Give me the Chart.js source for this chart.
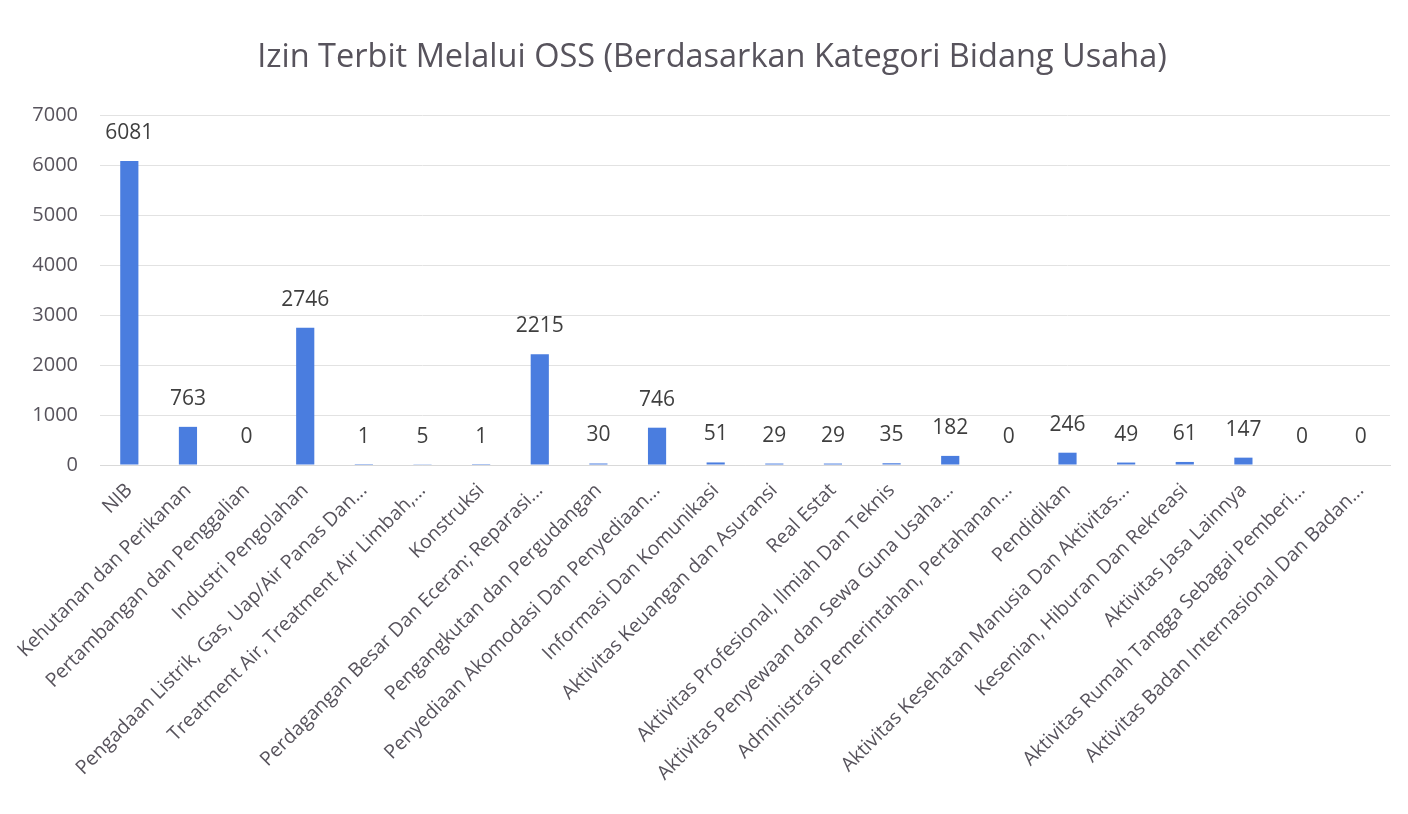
<!DOCTYPE html>
<html>
<head>
<meta charset="utf-8">
<script src="https://cdn.jsdelivr.net/npm/chart.js@4"></script>
<style>
  html, body { margin: 0; padding: 0; background: #fff; }
  #wrap { width: 1408px; height: 814px; }
</style>
</head>
<body>
<div id="wrap"><canvas id="ossChart" width="1408" height="814"></canvas></div>
<script>
const chartTitle = "Izin Terbit Melalui OSS (Berdasarkan Kategori Bidang Usaha)";
const categories = [
  "NIB",
  "Kehutanan dan Perikanan",
  "Pertambangan dan Penggalian",
  "Industri Pengolahan",
  "Pengadaan Listrik, Gas, Uap/Air Panas Dan...",
  "Treatment Air, Treatment Air Limbah,...",
  "Konstruksi",
  "Perdagangan Besar Dan Eceran; Reparasi...",
  "Pengangkutan dan Pergudangan",
  "Penyediaan Akomodasi Dan Penyediaan...",
  "Informasi Dan Komunikasi",
  "Aktivitas Keuangan dan Asuransi",
  "Real Estat",
  "Aktivitas Profesional, Ilmiah Dan Teknis",
  "Aktivitas Penyewaan dan Sewa Guna Usaha...",
  "Administrasi Pemerintahan, Pertahanan...",
  "Pendidikan",
  "Aktivitas Kesehatan Manusia Dan Aktivitas...",
  "Kesenian, Hiburan Dan Rekreasi",
  "Aktivitas Jasa Lainnya",
  "Aktivitas Rumah Tangga Sebagai Pemberi...",
  "Aktivitas Badan Internasional Dan Badan..."
];
const izinTerbit = [6081, 763, 0, 2746, 1, 5, 1, 2215, 30, 746, 51, 29, 29, 35, 182, 0, 246, 49, 61, 147, 0, 0];
const yTicks = [0, 1000, 2000, 3000, 4000, 5000, 6000, 7000];

const textColor = "#57535c";
const fontFam = "'Open Sans', sans-serif";

// value above each bar + title (Excel centres it a bit right of the plot)
const valueLabels = {
  id: "valueLabels",
  afterDatasetsDraw(chart) {
    const ctx = chart.ctx;
    const meta = chart.getDatasetMeta(0);
    ctx.save();
    ctx.font = "21px " + fontFam;
    ctx.fillStyle = "#3f3f3f";
    ctx.textAlign = "center";
    ctx.textBaseline = "middle";
    meta.data.forEach((bar, i) => {
      ctx.fillText(String(izinTerbit[i]), bar.x, bar.y - 28);
    });
    ctx.font = "32.5px " + fontFam;
    ctx.fillStyle = textColor;
    ctx.fillText(chartTitle, 712, 58);
    ctx.restore();
  }
};

new Chart(document.getElementById("ossChart"), {
  type: "bar",
  data: {
    labels: categories,
    datasets: [{
      data: izinTerbit,
      backgroundColor: "#4a7ddf",
      categoryPercentage: 1,
      barPercentage: 0.31
    }]
  },
  options: {
    responsive: false,
    animation: false,
    layout: { padding: { left: 0, right: 18, top: 115, bottom: 0 } },
    plugins: {
      legend: { display: false },
      tooltip: { enabled: false },
      title: { display: false }
    },
    scales: {
      y: {
        min: 0,
        max: 7000,
        afterBuildTicks(axis) { axis.ticks = yTicks.map(v => ({ value: v })); },
        afterFit(axis) { axis.width = 100; },
        border: { display: false },
        grid: { color: "#e2e2e2", drawTicks: false },
        ticks: {
          color: textColor,
          padding: 22,
          font: { family: fontFam, size: 20 },
          callback: v => String(v)
        }
      },
      x: {
        afterFit(axis) { axis.height = 349; },
        border: { display: true, color: "#d9d9d9" },
        grid: { display: false },
        ticks: {
          color: textColor,
          autoSkip: false,
          minRotation: 45,
          maxRotation: 45,
          padding: 6,
          font: { family: fontFam, size: 19.5 }
        }
      }
    }
  },
  plugins: [valueLabels]
});
</script>
</body>
</html>
